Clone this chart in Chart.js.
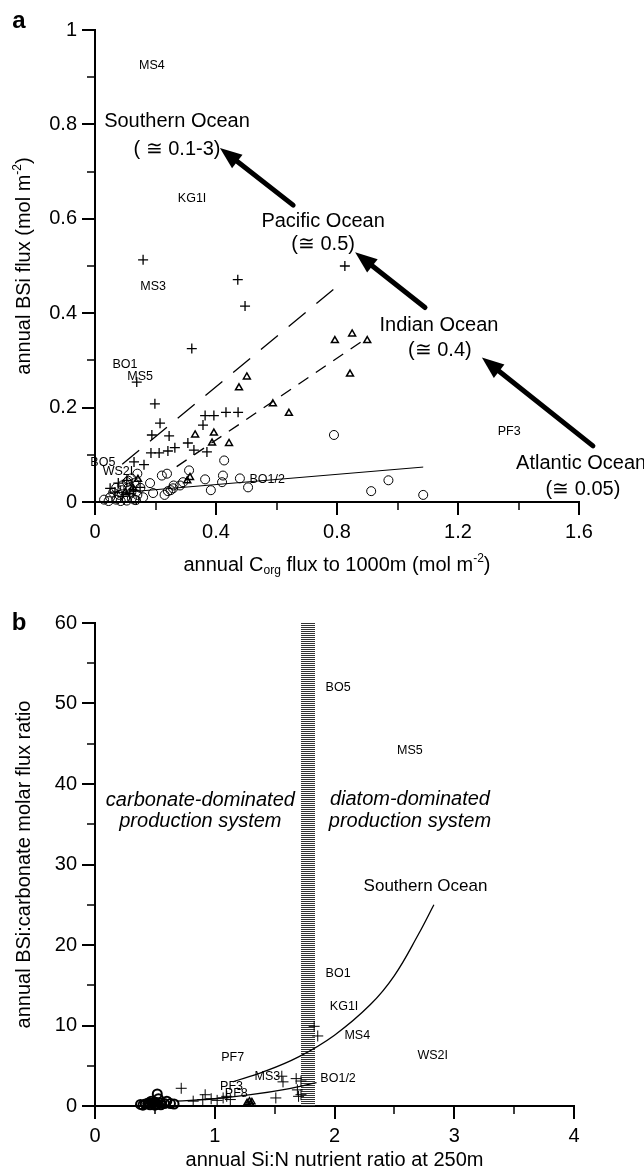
<!DOCTYPE html>
<html>
<head>
<meta charset="utf-8">
<script src="https://cdn.jsdelivr.net/npm/chart.js@4.4.1/dist/chart.umd.min.js"></script>
<style>
  html, body { margin: 0; padding: 0; background: #fff; }
  #wrap { position: relative; width: 644px; height: 1174px; }
  canvas { position: absolute; left: 0; }
  #chartA { top: 0; }
  #chartB { top: 587px; }
</style>
</head>
<body>
<div id="wrap">
  <canvas id="chartA" width="644" height="587"></canvas>
  <canvas id="chartB" width="644" height="587"></canvas>
</div>
<script>
// ---------- panel a : BSi flux vs Corg flux ----------
const pacificX = [0.159, 0.472, 0.496, 0.320, 0.138, 0.198, 0.215, 0.188, 0.245, 0.364, 0.393, 0.433, 0.473, 0.357, 0.185, 0.212, 0.241, 0.264, 0.307, 0.327, 0.370, 0.129, 0.162, 0.826, 0.050, 0.077, 0.105, 0.066, 0.127, 0.149, 0.090, 0.115];
const pacificY = [0.513, 0.471, 0.415, 0.325, 0.254, 0.208, 0.167, 0.142, 0.140, 0.183, 0.183, 0.190, 0.190, 0.163, 0.104, 0.104, 0.108, 0.115, 0.125, 0.110, 0.106, 0.085, 0.079, 0.500, 0.029, 0.040, 0.046, 0.021, 0.025, 0.031, 0.012, 0.018];

const indianX = [0.793, 0.850, 0.900, 0.843, 0.502, 0.476, 0.588, 0.641, 0.443, 0.331, 0.393, 0.387, 0.314, 0.142, 0.305, 0.125, 0.100];
const indianY = [0.342, 0.356, 0.342, 0.271, 0.265, 0.242, 0.208, 0.188, 0.124, 0.142, 0.146, 0.125, 0.052, 0.048, 0.045, 0.030, 0.020];

const atlanticX = [0.790, 0.970, 0.913, 1.085, 0.427, 0.423, 0.479, 0.506, 0.420, 0.383, 0.364, 0.311, 0.291, 0.281, 0.258, 0.241, 0.238, 0.221, 0.182, 0.192, 0.159, 0.122, 0.106, 0.030, 0.050, 0.060, 0.070, 0.080, 0.090, 0.100, 0.110, 0.120, 0.130, 0.140, 0.150, 0.090, 0.110, 0.130, 0.070, 0.230, 0.250, 0.260, 0.140, 0.120, 0.045, 0.085, 0.105, 0.135];
const atlanticY = [0.142, 0.046, 0.023, 0.015, 0.088, 0.056, 0.050, 0.031, 0.042, 0.025, 0.048, 0.067, 0.042, 0.035, 0.029, 0.023, 0.060, 0.056, 0.040, 0.019, 0.010, 0.008, 0.042, 0.005, 0.010, 0.020, 0.005, 0.015, 0.025, 0.010, 0.030, 0.020, 0.005, 0.015, 0.030, 0.035, 0.045, 0.040, 0.030, 0.015, 0.025, 0.035, 0.060, 0.050, 0.002, 0.002, 0.003, 0.004];

// regression lines, end points
const pacificLineX = [0.09, 0.82];
const pacificLineY = [0.080, 0.467];
const indianLineX = [0.27, 0.90];
const indianLineY = [0.075, 0.348];
const atlanticLineX = [0.05, 1.085];
const atlanticLineY = [0.018, 0.074];

const xMajorA = [0, 0.4, 0.8, 1.2, 1.6];
const xMinorA = [0.2, 0.6, 1.0, 1.4];
const xLabelsA = ['0', '0.4', '0.8', '1.2', '1.6'];
const yMajorA = [0, 0.2, 0.4, 0.6, 0.8, 1];
const yMinorA = [0.1, 0.3, 0.5, 0.7, 0.9];
const yLabelsA = ['0', '0.2', '0.4', '0.6', '0.8', '1'];

// station labels [text, x, y]
const siteLabelsA = [
  ['MS4', 0.188, 0.925], ['KG1I', 0.321, 0.642], ['MS3', 0.192, 0.456],
  ['BO1', 0.099, 0.292], ['MS5', 0.149, 0.265], ['BO5', 0.026, 0.083],
  ['WS2I', 0.076, 0.065], ['BO1/2', 0.569, 0.048], ['PF3', 1.369, 0.150]
];
const oceanLabelsA = [
  ['Southern Ocean', 0.271, 0.806], ['( \u2245 0.1-3)', 0.271, 0.746],
  ['Pacific Ocean', 0.754, 0.594], ['(\u2245 0.5)', 0.754, 0.546],
  ['Indian Ocean', 1.137, 0.375], ['(\u2245 0.4)', 1.140, 0.321],
  ['Atlantic Ocean', 1.607, 0.081], ['(\u2245 0.05)', 1.613, 0.027]
];
// arrows [tailX, tailY, tipX, tipY]
const arrowsA = [
  [0.655, 0.629, 0.413, 0.750],
  [1.091, 0.412, 0.860, 0.529],
  [1.646, 0.119, 1.279, 0.306]
];

// ---------- panel b : BSi:carbonate vs Si:N ----------
const circlesBX = [0.38, 0.40, 0.42, 0.44, 0.45, 0.46, 0.47, 0.48, 0.50, 0.50, 0.52, 0.52, 0.53, 0.55, 0.55, 0.58, 0.60, 0.63, 0.66];
const circlesBY = [0.2, 0.1, 0.25, 0.3, 0.4, 0.15, 0.6, 0.3, 0.5, 0.1, 0.2, 1.5, 0.9, 0.4, 0.15, 0.3, 0.6, 0.3, 0.25];
const crossesBX = [0.72, 0.82, 0.90, 0.92, 0.97, 1.02, 1.07, 1.10, 1.13, 1.51, 1.56, 1.57, 1.68, 1.69, 1.70, 1.72, 1.72, 1.83, 1.86, 0.50, 0.56];
const crossesBY = [2.2, 0.6, 0.8, 1.4, 0.9, 0.7, 1.0, 1.2, 0.8, 1.0, 3.7, 3.0, 3.4, 2.0, 1.2, 3.1, 1.4, 9.9, 8.7, 0.3, 0.2];
const trianglesBX = [1.27, 1.29, 1.31, 1.30, 0.52];
const trianglesBY = [0.4, 0.6, 0.5, 0.3, 0.4];

const southernCurveX = [1.15, 1.4, 1.7, 2.0, 2.3, 2.5, 2.7, 2.83];
const southernCurveY = [3.0, 4.2, 6.1, 8.8, 12.6, 16.2, 21.3, 25.0];
const lowerCurveX = [0.68, 1.0, 1.3, 1.6, 1.85];
const lowerCurveY = [0.6, 0.9, 1.4, 2.1, 2.9];

const hatchBand = [1.72, 1.84];

const xMajorB = [0, 1, 2, 3, 4];
const xMinorB = [0.5, 1.5, 2.5, 3.5];
const xLabelsB = ['0', '1', '2', '3', '4'];
const yMajorB = [0, 10, 20, 30, 40, 50, 60];
const yMinorB = [5, 15, 25, 35, 45, 55];
const yLabelsB = ['0', '10', '20', '30', '40', '50', '60'];

const siteLabelsB = [
  ['BO5', 2.03, 52.0], ['MS5', 2.63, 44.1], ['BO1', 2.03, 16.5], ['KG1I', 2.08, 12.3],
  ['MS4', 2.19, 8.7], ['WS2I', 2.82, 6.3], ['BO1/2', 2.03, 3.35], ['PF7', 1.15, 6.0],
  ['MS3', 1.44, 3.6], ['PF3', 1.14, 2.4], ['PF8', 1.18, 1.5]
];

const FONT = '"Liberation Sans", Arial, Helvetica, sans-serif';
const pts = (xs, ys) => xs.map((x, i) => ({ x: x, y: ys[i] }));

function axis(min, max, majors, minors, labels, isX, size) {
  const all = majors.concat(minors).sort((a, b) => a - b);
  return {
    type: 'linear', min: min, max: max,
    afterBuildTicks: s => { s.ticks = all.map(v => ({ value: v })); },
    afterFit: s => { if (isX) s.height = size; else s.width = size; },
    grid: { display: true, drawOnChartArea: false, drawTicks: false },
    border: { display: true, color: '#000', width: 2 },
    ticks: {
      color: '#000', font: { family: FONT, size: 20 }, padding: 18,
      autoSkip: false, maxRotation: 0, minRotation: 0,
      callback: v => {
        const i = majors.findIndex(m => Math.abs(m - v) < 1e-9);
        return i >= 0 ? labels[i] : '';
      }
    }
  };
}

function drawTicks(chart, xMaj, xMin, yMaj, yMin) {
  const ctx = chart.ctx, xs = chart.scales.x, ys = chart.scales.y;
  const a = chart.chartArea;
  ctx.save();
  ctx.strokeStyle = '#000';
  const seg = (x1, y1, x2, y2, w) => {
    ctx.lineWidth = w; ctx.beginPath(); ctx.moveTo(x1, y1); ctx.lineTo(x2, y2); ctx.stroke();
  };
  xMaj.forEach(v => { const p = Math.round(xs.getPixelForValue(v)); seg(p, a.bottom, p, a.bottom + 13, 2); });
  xMin.forEach(v => { const p = Math.round(xs.getPixelForValue(v)); seg(p, a.bottom, p, a.bottom + 8, 1.5); });
  yMaj.forEach(v => { const p = Math.round(ys.getPixelForValue(v)); seg(a.left - 13, p, a.left, p, 2); });
  yMin.forEach(v => { const p = Math.round(ys.getPixelForValue(v)); seg(a.left - 8, p, a.left, p, 1.5); });
  ctx.restore();
}

// text with sub/superscript parts: [text, kind]
function drawRich(ctx, parts, cx, cy, rot, size) {
  ctx.save();
  ctx.translate(cx, cy);
  ctx.rotate(rot);
  ctx.fillStyle = '#000';
  ctx.textBaseline = 'middle';
  ctx.textAlign = 'left';
  const fontFor = k => (k ? Math.round(size * 0.62) : size) + 'px ' + FONT;
  let total = 0;
  parts.forEach(p => { ctx.font = fontFor(p[1]); total += ctx.measureText(p[0]).width; });
  let x = -total / 2;
  parts.forEach(p => {
    ctx.font = fontFor(p[1]);
    const dy = p[1] === 'sub' ? size * 0.3 : p[1] === 'sup' ? -size * 0.33 : 0;
    ctx.fillText(p[0], x, dy);
    x += ctx.measureText(p[0]).width;
  });
  ctx.restore();
}

function drawLabels(chart, list, font) {
  const ctx = chart.ctx, xs = chart.scales.x, ys = chart.scales.y;
  ctx.save();
  ctx.fillStyle = '#000';
  ctx.font = font;
  ctx.textAlign = 'center';
  ctx.textBaseline = 'middle';
  list.forEach(l => ctx.fillText(l[0], xs.getPixelForValue(l[1]), ys.getPixelForValue(l[2])));
  ctx.restore();
}

const panelAPlugin = {
  id: 'panelA',
  afterDraw(chart) {
    const ctx = chart.ctx, xs = chart.scales.x, ys = chart.scales.y, a = chart.chartArea;
    drawTicks(chart, xMajorA, xMinorA, yMajorA, yMinorA);
    drawLabels(chart, siteLabelsA, '12.5px ' + FONT);
    drawLabels(chart, oceanLabelsA, '20px ' + FONT);
    // arrows
    ctx.save();
    ctx.fillStyle = '#000'; ctx.strokeStyle = '#000';
    arrowsA.forEach(ar => {
      const x1 = xs.getPixelForValue(ar[0]), y1 = ys.getPixelForValue(ar[1]);
      const x2 = xs.getPixelForValue(ar[2]), y2 = ys.getPixelForValue(ar[3]);
      const ang = Math.atan2(y2 - y1, x2 - x1);
      const hl = 22, hw = 8.5;
      const bx = x2 - Math.cos(ang) * hl, by = y2 - Math.sin(ang) * hl;
      ctx.lineWidth = 5; ctx.lineCap = 'round';
      ctx.beginPath(); ctx.moveTo(x1, y1); ctx.lineTo(bx + Math.cos(ang) * 4, by + Math.sin(ang) * 4); ctx.stroke();
      ctx.beginPath();
      ctx.moveTo(x2, y2);
      ctx.lineTo(bx + Math.sin(ang) * hw, by - Math.cos(ang) * hw);
      ctx.lineTo(bx - Math.sin(ang) * hw, by + Math.cos(ang) * hw);
      ctx.closePath(); ctx.fill();
    });
    ctx.restore();
    // axis titles
    drawRich(ctx, [['annual BSi flux (mol m', ''], ['-2', 'sup'], [')', '']], 24, (a.top + a.bottom) / 2, -Math.PI / 2, 20);
    drawRich(ctx, [['annual C', ''], ['org', 'sub'], [' flux to 1000m (mol m', ''], ['-2', 'sup'], [')', '']], (a.left + a.right) / 2, 565, 0, 20);
    ctx.save();
    ctx.font = 'bold 24px ' + FONT;
    ctx.fillStyle = '#000'; ctx.textAlign = 'center'; ctx.textBaseline = 'middle';
    ctx.fillText('a', 19, 21);
    ctx.restore();
  }
};

const panelBPlugin = {
  id: 'panelB',
  beforeDatasetsDraw(chart) {
    const ctx = chart.ctx, xs = chart.scales.x, ys = chart.scales.y;
    const x1 = Math.round(xs.getPixelForValue(hatchBand[0]));
    const x2 = Math.round(xs.getPixelForValue(hatchBand[1]));
    const top = Math.round(ys.getPixelForValue(60)), bot = Math.round(ys.getPixelForValue(0));
    ctx.save();
    ctx.strokeStyle = '#333'; ctx.lineWidth = 1;
    for (let y = top; y < bot; y += 2) {
      ctx.beginPath(); ctx.moveTo(x1, y + 0.5); ctx.lineTo(x2, y + 0.5); ctx.stroke();
    }
    ctx.restore();
  },
  afterDraw(chart) {
    const ctx = chart.ctx, a = chart.chartArea;
    drawTicks(chart, xMajorB, xMinorB, yMajorB, yMinorB);
    drawLabels(chart, siteLabelsB, '12.5px ' + FONT);
    drawLabels(chart, [['Southern Ocean', 2.76, 27.3]], '17px ' + FONT);
    drawLabels(chart, [['carbonate-dominated', 0.88, 38.0], ['production system', 0.88, 35.3],
      ['diatom-dominated', 2.63, 38.1], ['production system', 2.63, 35.3]], 'italic 20px ' + FONT);
    drawRich(ctx, [['annual BSi:carbonate molar flux ratio', '']], 24, (a.top + a.bottom) / 2, -Math.PI / 2, 20);
    drawRich(ctx, [['annual Si:N nutrient ratio at 250m', '']], (a.left + a.right) / 2, 573, 0, 20);
    ctx.save();
    ctx.font = 'bold 24px ' + FONT;
    ctx.fillStyle = '#000'; ctx.textAlign = 'center'; ctx.textBaseline = 'middle';
    ctx.fillText('b', 19, 36);
    ctx.restore();
  }
};

const baseOpts = (xAxis, yAxis, pad) => ({
  responsive: false, animation: false, devicePixelRatio: 1,
  layout: { padding: pad },
  plugins: { legend: { display: false }, tooltip: { enabled: false } },
  scales: { x: xAxis, y: yAxis }
});

new Chart(document.getElementById('chartA'), {
  type: 'scatter',
  data: {
    datasets: [
      { data: pts(atlanticLineX, atlanticLineY), showLine: true, borderColor: '#000', borderWidth: 1, pointRadius: 0, clip: false },
      { data: pts(pacificLineX, pacificLineY), showLine: true, borderColor: '#000', borderWidth: 1.3, borderDash: [22, 14], pointRadius: 0, clip: false },
      { data: pts(indianLineX, indianLineY), showLine: true, borderColor: '#000', borderWidth: 1.3, borderDash: [12, 9], pointRadius: 0, clip: false },
      { data: pts(atlanticX, atlanticY), pointStyle: 'circle', pointRadius: 4.5, borderColor: '#000', borderWidth: 1, backgroundColor: 'rgba(0,0,0,0)', clip: false },
      { data: pts(indianX, indianY), pointStyle: 'triangle', pointRadius: 4, borderColor: '#000', borderWidth: 1.5, backgroundColor: 'rgba(0,0,0,0)', clip: false },
      { data: pts(pacificX, pacificY), pointStyle: 'cross', pointRadius: 5, borderColor: '#000', borderWidth: 1.3, clip: false }
    ]
  },
  options: baseOpts(
    axis(0, 1.6, xMajorA, xMinorA, xLabelsA, true, 85),
    axis(0, 1, yMajorA, yMinorA, yLabelsA, false, 95),
    { top: 22, right: 65, left: 0, bottom: 0 }
  ),
  plugins: [panelAPlugin]
});

new Chart(document.getElementById('chartB'), {
  type: 'scatter',
  data: {
    datasets: [
      { data: pts(southernCurveX, southernCurveY), showLine: true, tension: 0.4, borderColor: '#000', borderWidth: 1.3, pointRadius: 0, clip: false },
      { data: pts(lowerCurveX, lowerCurveY), showLine: true, tension: 0.4, borderColor: '#000', borderWidth: 1.3, pointRadius: 0, clip: false },
      { data: pts(circlesBX, circlesBY), pointStyle: 'circle', pointRadius: 4.5, borderColor: '#000', borderWidth: 2, backgroundColor: 'rgba(0,0,0,0)', clip: false },
      { data: pts(trianglesBX, trianglesBY), pointStyle: 'triangle', pointRadius: 3.5, borderColor: '#000', borderWidth: 1.5, backgroundColor: 'rgba(0,0,0,0)', clip: false },
      { data: pts(crossesBX, crossesBY), pointStyle: 'cross', pointRadius: 5.5, borderColor: '#000', borderWidth: 1, clip: false }
    ]
  },
  options: baseOpts(
    axis(0, 4, xMajorB, xMinorB, xLabelsB, true, 68),
    axis(0, 60, yMajorB, yMinorB, yLabelsB, false, 95),
    { top: 36, right: 70, left: 0, bottom: 0 }
  ),
  plugins: [panelBPlugin]
});
</script>
</body>
</html>
